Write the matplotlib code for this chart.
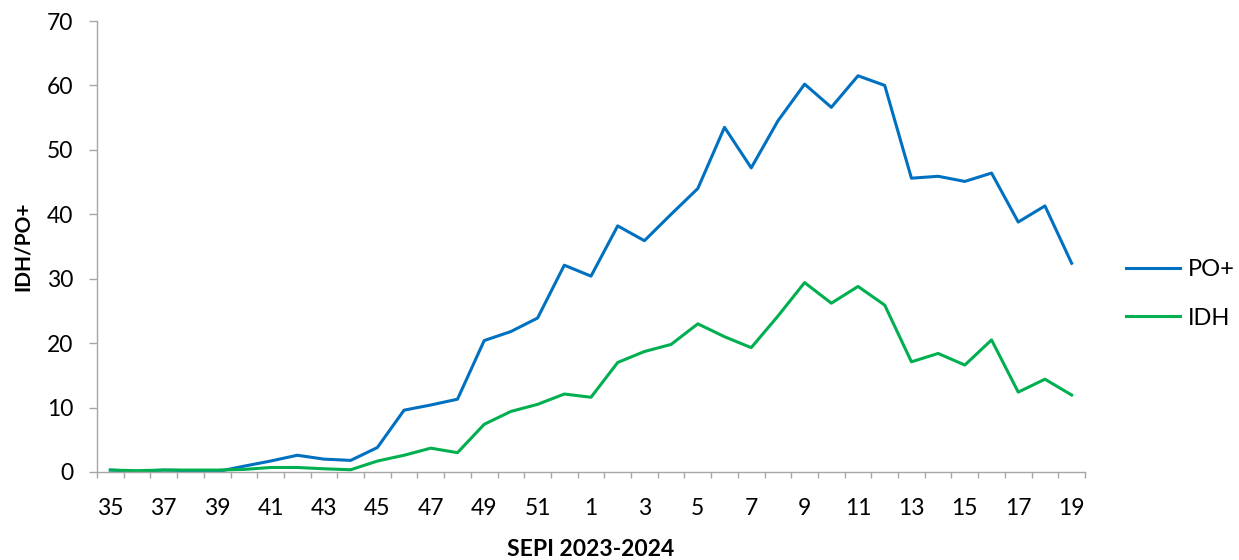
import matplotlib
matplotlib.use("Agg")
import matplotlib.pyplot as plt
import numpy as np

plt.rcParams['font.family'] = ['Lato', 'DejaVu Sans']

# semaines epidemiologiques 35/2023 .. 19/2024
weeks = list(range(35, 53)) + list(range(1, 20))

po_plus = [0.3, 0.1, 0.3, 0.2, 0.05, 0.9, 1.7, 2.6, 2.0, 1.8,
           3.8, 9.6, 10.4, 11.3, 20.4, 21.8, 23.9, 32.1, 30.4, 38.2,
           35.9, 40.0, 44.0, 53.5, 47.2, 54.5, 60.2, 56.6, 61.5, 60.0,
           45.6, 45.9, 45.1, 46.4, 38.8, 41.3, 32.4]

idh = [0.3, 0.2, 0.3, 0.3, 0.3, 0.4, 0.7, 0.7, 0.5, 0.35,
       1.7, 2.6, 3.7, 3.0, 7.4, 9.4, 10.5, 12.1, 11.6, 17.0,
       18.7, 19.8, 23.0, 21.0, 19.3, 24.2, 29.4, 26.2, 28.8, 25.9,
       17.1, 18.4, 16.6, 20.5, 12.4, 14.4, 11.95]

BLUE = '#0070C0'
GREEN = '#00B050'
AXIS = '#A6A6A6'

fig = plt.figure(figsize=(12.39, 5.60), dpi=100)
ax = fig.add_axes([97 / 1239, 88 / 560, 988 / 1239, 451 / 560])

x = np.arange(len(weeks))
ax.plot(x, po_plus, color=BLUE, lw=2.2, label='PO+')
ax.plot(x, idh, color=GREEN, lw=2.2, label='IDH')

ax.set_xlim(-0.5, len(weeks) - 0.5)
ax.set_ylim(0, 70)
ax.set_yticks(range(0, 71, 10))

# labels une semaine sur deux, graduations entre les categories
ax.set_xticks(x[::2])
ax.set_xticklabels([str(w) for w in weeks[::2]])
ax.set_xticks(np.arange(-0.5, len(weeks), 1), minor=True)
ax.tick_params(axis='x', which='major', length=0, pad=19, labelsize=16.5)
ax.tick_params(axis='x', which='minor', length=4.5, width=1, color=AXIS)
ax.tick_params(axis='y', length=6, width=1, color=AXIS, pad=11, labelsize=16.5)

for s in ('top', 'right'):
    ax.spines[s].set_visible(False)
for s in ('left', 'bottom'):
    ax.spines[s].set_color(AXIS)
    ax.spines[s].set_linewidth(1)

ax.set_ylabel('IDH/PO+', fontsize=15, fontweight='bold', labelpad=10)
ax.set_xlabel('SEPI 2023-2024', fontsize=16.5, fontweight='bold', labelpad=14)

fig.legend(loc='center left', bbox_to_anchor=(1126 / 1239, 266 / 560),
           frameon=False, fontsize=17, handlelength=2.3, handletextpad=0.3,
           labelspacing=1.15, borderpad=0, borderaxespad=0)

fig.savefig('out.png', dpi=100)
